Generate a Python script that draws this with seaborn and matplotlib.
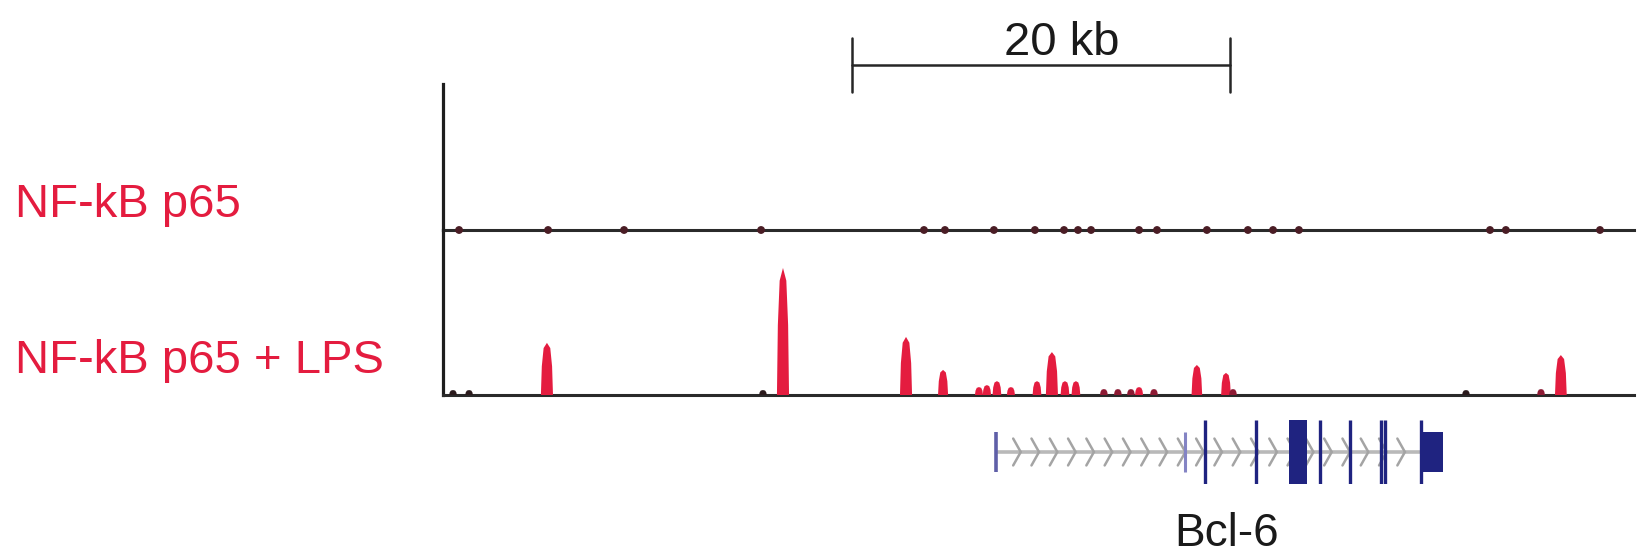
import numpy as np
import pandas as pd
import matplotlib
matplotlib.use("Agg")
import matplotlib.pyplot as plt
import seaborn as sns
from matplotlib.patches import Rectangle
from matplotlib.transforms import blended_transform_factory

# ---------------- data (genomic position in kb from the left edge of the view) ----------------
track_labels = ["NF-kB p65", "NF-kB p65 + LPS"]
gene_name = "Bcl-6"
scale_label = "20 kb"
scale_bar_kb = 20.0
scale_bar_start_kb = 21.64
view_end_kb = 63.02

# NF-kB p65 (unstimulated): only tiny background reads on the baseline
p65_sites_kb = [0.85, 5.56, 9.58, 16.83, 25.45, 26.56, 29.15, 31.32, 32.86, 33.60,
                34.29, 36.83, 37.78, 40.42, 42.59, 43.92, 45.29, 55.40, 56.24, 61.22]

# NF-kB p65 + LPS peaks
lps_peak_kb = [0.53, 1.38, 5.50, 16.93, 17.99, 24.50, 26.46, 28.36, 28.78, 29.31,
               30.05, 31.43, 32.22, 32.91, 33.49, 34.97, 35.71, 36.40, 36.83, 37.62,
               39.89, 41.43, 41.80, 54.13, 58.10, 59.15]
lps_peak_height = [1.5, 1.5, 15.8, 1.5, 38.5, 17.6, 7.6, 2.4, 3.0, 4.2,
                   2.4, 4.2, 13.0, 4.2, 4.2, 1.8, 1.8, 1.8, 2.4, 1.8,
                   9.1, 6.7, 1.8, 1.5, 1.8, 12.1]
lps_ymax = 50.0

# Bcl-6 gene model (kb)
gene_start_kb = 29.26
utr_start_kb = 51.85
utr_end_kb = 52.91
minor_exon_kb = [39.26]
exon_kb = [40.32, 43.02, 46.40, 47.99, 49.63, 49.84, 51.75]
big_exon_kb = (44.76, 45.71)

# ---------------- figure ----------------
sns.set_theme(style="white")
plt.rcParams['font.family'] = ['Liberation Sans', 'DejaVu Sans']

W, H = 1640, 555
fig = plt.figure(figsize=(W / 100, H / 100), dpi=100)
fig.patch.set_facecolor("white")

def fx(px):
    return px / W

def fy(py):
    return (H - py) / H

X0, X1 = 443, 1634
RED = "#e41c3f"
AXC = "#1e1e1e"

ax_p65 = fig.add_axes([fx(X0), fy(230), fx(X1) - fx(X0), fy(84) - fy(230)])
ax_lps = fig.add_axes([fx(X0), fy(395), fx(X1) - fx(X0), fy(230) - fy(395)])
ax_gene = fig.add_axes([fx(X0), fy(484), fx(X1) - fx(X0), fy(420) - fy(484)])

for ax in (ax_p65, ax_lps, ax_gene):
    ax.set_xlim(0, view_end_kb)
    ax.set_xticks([])
    ax.set_yticks([])
    ax.set_facecolor("none")
    for s in ax.spines.values():
        s.set_visible(False)

for ax in (ax_p65, ax_lps):
    ax.spines["left"].set_visible(True)
    ax.spines["bottom"].set_visible(True)
    ax.spines["left"].set_color(AXC)
    ax.spines["bottom"].set_color("#2a2a2a")
    ax.spines["left"].set_linewidth(2.3)
    ax.spines["bottom"].set_linewidth(2.2)

# --- p65 track ---
ax_p65.set_ylim(0, 1)
p65_df = pd.DataFrame({"kb": p65_sites_kb, "y": np.zeros(len(p65_sites_kb))})
sns.scatterplot(data=p65_df, x="kb", y="y", ax=ax_p65, s=32, color="#4a1d25",
                edgecolor="none", zorder=5, clip_on=False, legend=False)
ax_p65.set_xlabel("")
ax_p65.set_ylabel("")

# --- LPS track ---
ax_lps.set_ylim(0, lps_ymax)
shape_x = np.array([-1.0, -0.85, -0.55, 0.0, 0.55, 0.85, 1.0])
shape_y = np.array([0.0, 0.55, 0.9, 1.0, 0.9, 0.55, 0.0])
for kb, h in zip(lps_peak_kb, lps_peak_height):
    half = min(0.64, 0.38 + 0.02 * h) / 2
    if h < 1.7:
        c = "#2a1a1c"
    elif h < 2.2:
        c = "#8c1a33"
    else:
        c = RED
    ax_lps.fill(kb + shape_x * half, shape_y * h, color=c, lw=0, zorder=3)
ax_lps.set_xlabel("")
ax_lps.set_ylabel("")

# --- gene model ---
ax_gene.set_ylim(-1, 1)
ax_gene.plot([gene_start_kb, utr_start_kb], [0, 0], color="#b9b9b9", lw=2.6,
             solid_capstyle="butt", zorder=1)
for c in np.arange(gene_start_kb + 1.11, utr_start_kb - 0.3, 0.968):
    ax_gene.plot([c - 0.2, c + 0.2, c - 0.2], [0.42, 0.0, -0.42], color="#a4a4a4",
                 lw=1.8, zorder=2, solid_joinstyle="miter")
ax_gene.vlines([gene_start_kb], -0.62, 0.62, color="#5f5fa8", lw=2.6, zorder=3)
ax_gene.vlines(minor_exon_kb, -0.62, 0.62, color="#8484c4", lw=2.2, zorder=3)
ax_gene.vlines(exon_kb, -1, 1, color="#1f2380", lw=2.4, zorder=4)
ax_gene.add_patch(Rectangle((big_exon_kb[0], -1), big_exon_kb[1] - big_exon_kb[0], 2,
                            color="#1f2380", lw=0, zorder=4))
ax_gene.add_patch(Rectangle((utr_start_kb, -0.62), utr_end_kb - utr_start_kb, 1.24,
                            color="#1f2380", lw=0, zorder=4))

# --- scale bar ---
trans = blended_transform_factory(ax_p65.transData, fig.transFigure)
sb0, sb1 = scale_bar_start_kb, scale_bar_start_kb + scale_bar_kb
ax_p65.plot([sb0, sb1], [fy(65), fy(65)], transform=trans, color="#262626", lw=1.8,
            clip_on=False)
for xb in (sb0, sb1):
    ax_p65.plot([xb, xb], [fy(38), fy(92)], transform=trans, color="#262626", lw=1.8,
                clip_on=False)

# --- texts ---
fig.text(fx(1062), fy(55), scale_label, ha="center", va="baseline", fontsize=34,
         color="#1a1a1a")
fig.text(fx(15), fy(217), track_labels[0], ha="left", va="baseline", fontsize=34,
         color=RED)
fig.text(fx(15), fy(373), track_labels[1], ha="left", va="baseline", fontsize=34,
         color=RED)
fig.text(fx(1227), fy(546), gene_name, ha="center", va="baseline", fontsize=33,
         color="#1a1a1a")

fig.savefig("out.png", dpi=100, facecolor="white")
